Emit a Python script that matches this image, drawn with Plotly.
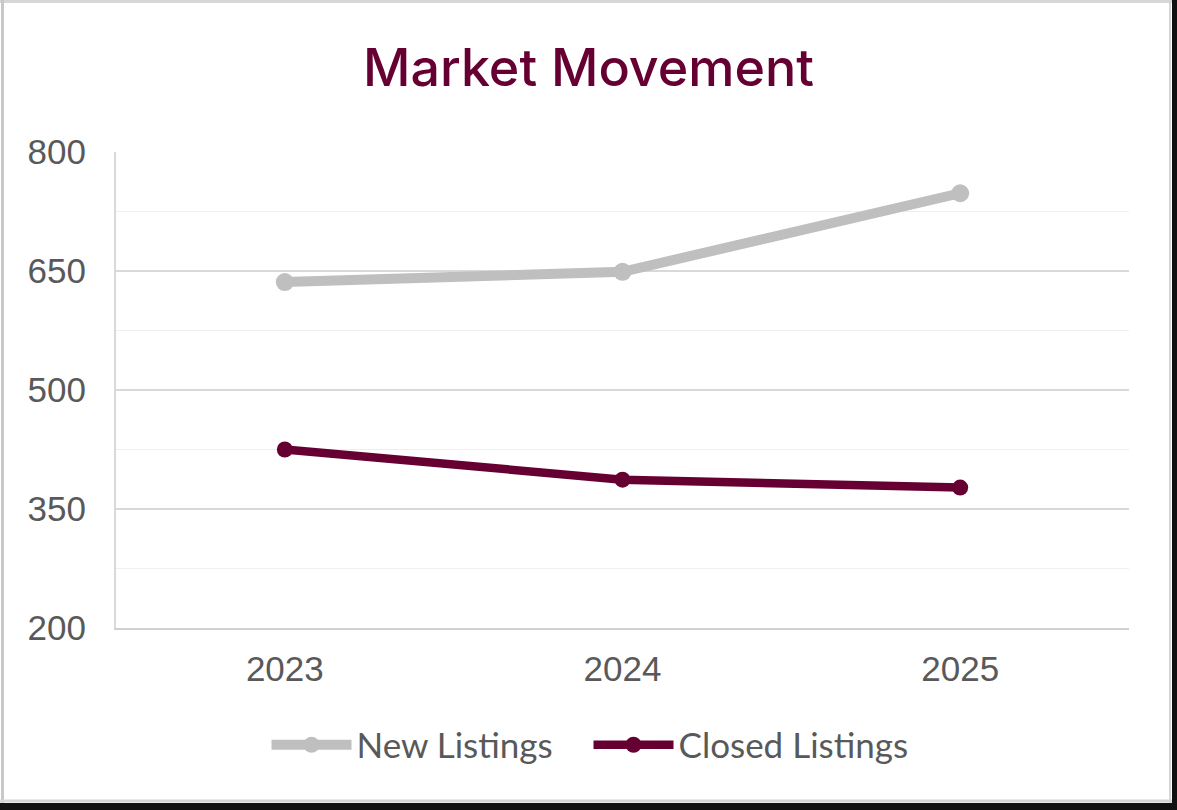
import plotly.graph_objects as go

years = ["2023", "2024", "2025"]
new_listings = [636, 649, 748]
closed_listings = [425, 387, 377]
y_ticks = [200, 350, 500, 650, 800]

W, H = 1177, 810
L, R, T, B = 116, 1129, 152, 628
pw, ph = R - L, B - T

def px(x):
    return (x - L) / pw

def py(y):
    return (B - y) / ph

fig = go.Figure()
fig.add_trace(go.Scatter(
    x=years, y=new_listings, name="New Listings", mode="lines+markers",
    line=dict(color="#BFBFBF", width=10), marker=dict(size=18, color="#BFBFBF"),
))
fig.add_trace(go.Scatter(
    x=years, y=closed_listings, name="Closed Listings", mode="lines+markers",
    line=dict(color="#670032", width=8.5), marker=dict(size=16, color="#670032"),
))

shapes = [
    dict(type="line", xref="paper", yref="paper", x0=px(0), x1=px(1172), y0=py(1.5), y1=py(1.5),
         line=dict(color="#d6d6d6", width=3)),
    dict(type="line", xref="paper", yref="paper", x0=px(2.5), x1=px(2.5), y0=py(0), y1=py(803),
         line=dict(color="#c8c8c8", width=3)),
    dict(type="line", xref="paper", yref="paper", x0=px(0), x1=px(1172), y0=py(801), y1=py(801),
         line=dict(color="#d6d6d6", width=3)),
    dict(type="rect", xref="paper", yref="paper", x0=px(0), x1=px(1180), y0=py(803), y1=py(815),
         fillcolor="#111111", line=dict(width=0), layer="above"),
    dict(type="rect", xref="paper", yref="paper", x0=px(1172), x1=px(1180), y0=py(-5), y1=py(815),
         fillcolor="#111111", line=dict(width=0), layer="above"),
    dict(type="line", xref="paper", yref="paper", x0=px(1170), x1=px(1170), y0=py(0), y1=py(803),
         line=dict(color="#d6d6d6", width=2)),
]

fig.update_layout(
    width=W, height=H,
    margin=dict(l=L, r=W - R, t=T, b=H - B, pad=0, autoexpand=False),
    paper_bgcolor="white", plot_bgcolor="white",
    title=dict(text="Market Movement", x=0.5, xanchor="center", xref="container",
               y=1 - 68 / H, yanchor="middle",
               font=dict(family="Inter", size=52, color="#670032", weight=500)),
    xaxis=dict(
        type="category", range=[-0.5, 2.5], showgrid=False, zeroline=False,
        showline=True, linecolor="#d0d0d0", linewidth=2,
        ticks="", ticklabelstandoff=9,
        tickfont=dict(family="Liberation Sans", size=35, color="#595959"),
    ),
    yaxis=dict(
        range=[200, 800], tickvals=y_ticks, ticktext=[str(v) for v in y_ticks],
        showgrid=True, gridcolor="#d9d9d9", gridwidth=2,
        minor=dict(dtick=75, tick0=200, showgrid=True, gridcolor="#efefef", gridwidth=1),
        showline=True, linecolor="#d9d9d9", linewidth=2, zeroline=False,
        ticks="", ticklabelstandoff=21,
        tickfont=dict(family="Liberation Sans", size=35, color="#595959"),
    ),
    legend=dict(
        orientation="h", x=px(588.5), xanchor="center", y=py(745), yanchor="middle",
        font=dict(family="Lato", size=35, color="#595959"),
        itemwidth=80, traceorder="normal", bgcolor="rgba(0,0,0,0)",
        entrywidth=227, entrywidthmode="pixels",
    ),
    shapes=shapes,
    showlegend=True,
)

fig.write_html("out.html", config={"displayModeBar": False},
               post_script="document.body.style.margin='0';")
